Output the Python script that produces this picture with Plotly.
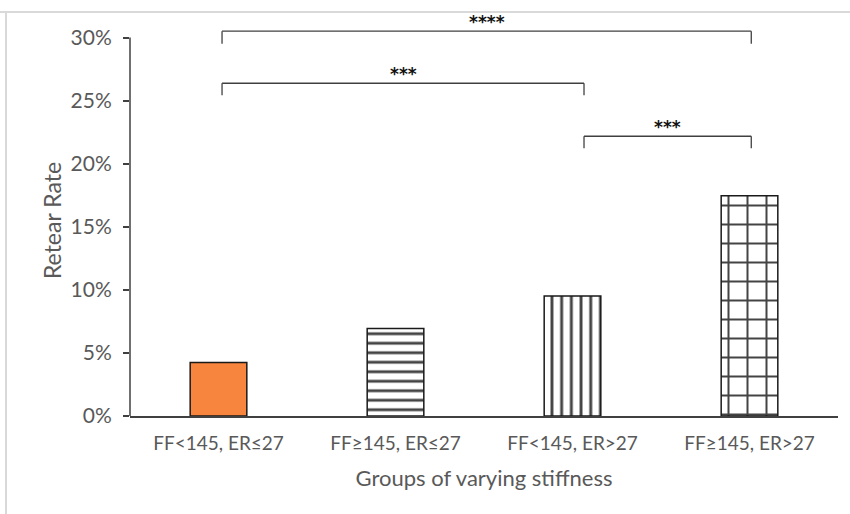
import plotly.graph_objects as go

categories = ["FF<145, ER≤27", "FF≥145, ER≤27", "FF<145, ER>27", "FF≥145, ER>27"]
retear_rate = [0.0424, 0.0694, 0.0952, 0.1746]
y_tick_vals = [0, 0.05, 0.10, 0.15, 0.20, 0.25, 0.30]

# significance comparisons: (start index, end index, line level, tip level, stars)
comp_start = [0.02, 0.02, 2.065]
comp_end = [3.01, 2.065, 3.01]
comp_level = [0.3051, 0.2638, 0.2218]
comp_tip = [0.2952, 0.2543, 0.2123]
comp_stars = ["****", "***", "***"]

bar_colors = ["#F7853D", "white", "white", "white"]
patterns = ["", "-", "|", "+"]
pattern_sizes = [10, 9.5, 9.7, 19]
pattern_solid = [0.2, 0.3, 0.3, 0.2]

axis_color = "#404040"
text_color = "#595959"
font_family = "Lato, 'Open Sans', sans-serif"

fig = go.Figure()
fig.add_trace(go.Bar(
    x=categories,
    y=retear_rate,
    marker=dict(
        color=bar_colors,
        line=dict(color="#1a1a1a", width=1.5),
        pattern=dict(shape=patterns, size=pattern_sizes, solidity=pattern_solid,
                     fgcolor="#000000", fgopacity=1, fillmode="overlay"),
    ),
    showlegend=False,
))

shapes = []
# y-axis line ending at the 30% tick
shapes.append(dict(type="line", xref="paper", yref="y", x0=0, x1=0, y0=0, y1=max(y_tick_vals),
                   line=dict(color=axis_color, width=1.5)))
annotations = []
for a, b, lv, tp, st in zip(comp_start, comp_end, comp_level, comp_tip, comp_stars):
    for seg in [(a, lv, b, lv), (a, lv, a, tp), (b, lv, b, tp)]:
        shapes.append(dict(type="line", xref="x", yref="y", x0=seg[0], y0=seg[1], x1=seg[2], y1=seg[3],
                           line=dict(color=axis_color, width=1.3)))
    annotations.append(dict(x=(a + b) / 2, y=lv, xref="x", yref="y", text="<b>" + st + "</b>", showarrow=False,
                            yanchor="bottom", yshift=-3,
                            font=dict(family="'DejaVu Sans', sans-serif", size=17, color="#111111")))

# light frame around the figure
shapes.append(dict(type="line", xref="paper", yref="paper", x0=-130/708, x1=(850-130)/708,
                   y0=(416-12)/391, y1=(416-12)/391,
                   line=dict(color="#D9D9D9", width=2)))
shapes.append(dict(type="line", xref="paper", yref="paper", x0=-124/708, x1=-124/708,
                   y0=-98/391, y1=(416-12)/391,
                   line=dict(color="#D9D9D9", width=2)))

fig.update_layout(
    width=850, height=514,
    margin=dict(l=130, r=12, t=25, b=98),
    paper_bgcolor="white", plot_bgcolor="white",
    bargap=0.68,
    font=dict(family=font_family, color=text_color),
    shapes=shapes,
    annotations=annotations,
    xaxis=dict(
        range=[-0.5, 3.5],
        showline=True, linecolor=axis_color, linewidth=1.5,
        ticks="", showgrid=False, zeroline=False,
        tickfont=dict(size=19, color=text_color),
        ticklabelstandoff=9,
        title=dict(text="Groups of varying stiffness", font=dict(size=22, color=text_color), standoff=18),
    ),
    yaxis=dict(
        range=[0, 0.31],
        showline=False, showgrid=False, zeroline=False,
        tickvals=y_tick_vals, tickformat=".0%",
        ticks="outside", ticklen=6, tickcolor=axis_color, tickwidth=1.5,
        tickfont=dict(size=21, color=text_color),
        ticklabelstandoff=7,
        title=dict(text="Retear Rate", font=dict(size=23, color=text_color), standoff=2),
    ),
)

fig.write_html("out.html")
